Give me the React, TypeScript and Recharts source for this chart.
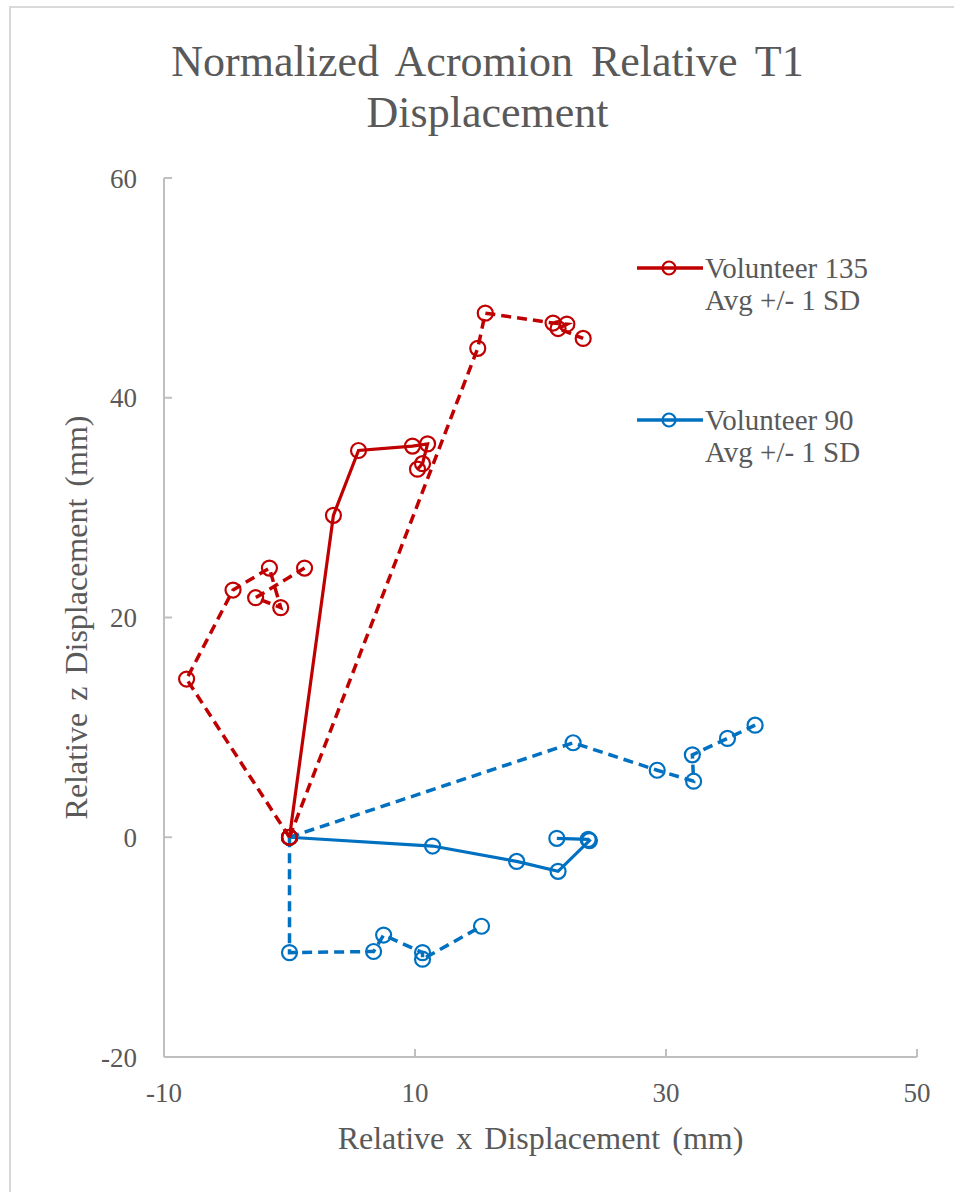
import { ScatterChart, Scatter, XAxis, YAxis, Label } from "recharts";

const X_TICKS = [-10, 10, 30, 50];
const Y_TICKS = [-20, 0, 20, 40, 60];

// Volunteer 135 – average path and +/- 1 SD paths (mm)
const V135_AVG_X = [0, 3.5, 5.5, 9.8, 11.0, 10.6, 10.2];
const V135_AVG_Y = [0, 29.3, 35.2, 35.6, 35.8, 34.0, 33.5];
const V135_HI_X = [0, 15.0, 15.6, 21.0, 22.1, 21.4, 23.4];
const V135_HI_Y = [0, 44.5, 47.7, 46.8, 46.7, 46.3, 45.4];
const V135_LO_X = [0, -8.2, -4.5, -1.6, -0.7, -2.7, 1.2];
const V135_LO_Y = [0, 14.4, 22.5, 24.5, 20.9, 21.8, 24.5];

// Volunteer 90
const V90_AVG_X = [0, 11.4, 18.1, 21.4, 23.9, 23.8, 21.3];
const V90_AVG_Y = [0, -0.8, -2.2, -3.1, -0.3, -0.2, -0.1];
const V90_HI_X = [0, 22.6, 29.3, 32.2, 32.1, 34.9, 37.1];
const V90_HI_Y = [0, 8.6, 6.1, 5.1, 7.5, 9.0, 10.2];
const V90_LO_X = [0, 0.0, 6.7, 7.5, 10.6, 10.6, 15.3];
const V90_LO_Y = [0, -10.5, -10.4, -8.9, -10.5, -11.1, -8.1];

const RED = "#C00000";
const BLUE = "#0070C0";
const GREY_TEXT = "#595959";
const AXIS = "#BFBFBF";
const FONT = "'Liberation Serif', 'Times New Roman', serif";

const pts = (xs: number[], ys: number[]) => xs.map((x, i) => ({ x, y: ys[i] }));

const ring = (color: string) => (p: any) => (
  <circle cx={p.cx} cy={p.cy} r={7.5} fill="none" stroke={color} strokeWidth={2.2} />
);

function LegendItem({ color, name }: { color: string; name: string }) {
  return (
    <div style={{ display: "flex", alignItems: "flex-start" }}>
      <svg width={70} height={32} style={{ flex: "none" }}>
        <line x1={2} y1={16} x2={68} y2={16} stroke={color} strokeWidth={3.5} />
        <circle cx={34} cy={16} r={6.5} fill="none" stroke={color} strokeWidth={2.2} />
      </svg>
      <div style={{ lineHeight: "32px", fontSize: 29, color: GREY_TEXT, whiteSpace: "nowrap" }}>
        {name}
        <br />
        Avg +/- 1 SD
      </div>
    </div>
  );
}

export default function App() {
  const tick = { fill: GREY_TEXT, fontSize: 27, fontFamily: FONT };
  const dashed = (c: string) => ({ stroke: c, strokeWidth: 3.5, strokeDasharray: "10 6" });
  const solid = (c: string) => ({ stroke: c, strokeWidth: 3.2 });

  return (
    <div
      style={{
        position: "absolute",
        left: 0,
        top: 0,
        width: 954,
        height: 1192,
        overflow: "hidden",
        background: "#fff",
        fontFamily: FONT,
      }}
    >
      {/* chart area frame, runs off the right and bottom edges */}
      <div
        style={{
          position: "absolute",
          left: 9,
          top: 6,
          width: 1000,
          height: 1300,
          border: "2px solid #D9D9D9",
        }}
      />
      <div
        style={{
          position: "absolute",
          left: 0,
          width: 975,
          top: 36,
          textAlign: "center",
          fontSize: 44,
          lineHeight: "51px",
          wordSpacing: 7,
          color: GREY_TEXT,
        }}
      >
        Normalized Acromion Relative T1
        <br />
        Displacement
      </div>

      <div style={{ position: "absolute", left: 0, top: 0 }}>
        <ScatterChart width={954} height={1192} margin={{ top: 178, right: 37, bottom: 35, left: 64 }}>
          <XAxis
            type="number"
            dataKey="x"
            domain={[-10, 50]}
            ticks={X_TICKS}
            interval={0}
            allowDataOverflow
            height={100}
            tick={tick}
            tickSize={-8}
            tickMargin={34}
            axisLine={{ stroke: AXIS, strokeWidth: 2 }}
            tickLine={{ stroke: AXIS, strokeWidth: 2 }}
          >
            <Label
              value="Relative x Displacement (mm)"
              position="insideBottom"
              offset={8}
              style={{ fill: GREY_TEXT, fontSize: 32, fontFamily: FONT, wordSpacing: 4 }}
            />
          </XAxis>
          <YAxis
            type="number"
            dataKey="y"
            domain={[-20, 60]}
            ticks={Y_TICKS}
            interval={0}
            allowDataOverflow
            width={100}
            tick={tick}
            tickSize={-8}
            tickMargin={35}
            axisLine={{ stroke: AXIS, strokeWidth: 2 }}
            tickLine={{ stroke: AXIS, strokeWidth: 2 }}
          >
            <Label
              value="Relative z Displacement (mm)"
              angle={-90}
              position="insideLeft"
              offset={12}
              style={{ fill: GREY_TEXT, fontSize: 32, fontFamily: FONT, textAnchor: "middle", wordSpacing: 4 }}
            />
          </YAxis>

          <Scatter data={pts(V90_HI_X, V90_HI_Y)} stroke={BLUE} fill="none" line={dashed(BLUE)} lineType="joint" shape={ring(BLUE)} isAnimationActive={false} />
          <Scatter data={pts(V90_LO_X, V90_LO_Y)} stroke={BLUE} fill="none" line={dashed(BLUE)} lineType="joint" shape={ring(BLUE)} isAnimationActive={false} />
          <Scatter data={pts(V90_AVG_X, V90_AVG_Y)} stroke={BLUE} fill="none" line={solid(BLUE)} lineType="joint" shape={ring(BLUE)} isAnimationActive={false} />
          <Scatter data={pts(V135_HI_X, V135_HI_Y)} stroke={RED} fill="none" line={dashed(RED)} lineType="joint" shape={ring(RED)} isAnimationActive={false} />
          <Scatter data={pts(V135_LO_X, V135_LO_Y)} stroke={RED} fill="none" line={dashed(RED)} lineType="joint" shape={ring(RED)} isAnimationActive={false} />
          <Scatter data={pts(V135_AVG_X, V135_AVG_Y)} stroke={RED} fill="none" line={solid(RED)} lineType="joint" shape={ring(RED)} isAnimationActive={false} />
        </ScatterChart>
      </div>

      <div style={{ position: "absolute", left: 635, top: 252 }}>
        <LegendItem color={RED} name="Volunteer 135" />
      </div>
      <div style={{ position: "absolute", left: 635, top: 404 }}>
        <LegendItem color={BLUE} name="Volunteer 90" />
      </div>
    </div>
  );
}
